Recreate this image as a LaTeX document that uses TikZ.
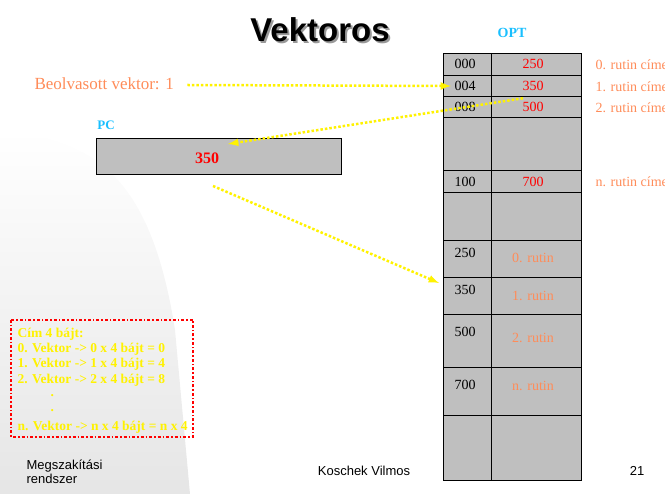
\documentclass[tikz,border=0pt]{standalone}
\usepackage{fontspec}
\setmainfont{Liberation Serif}
\newfontfamily\arialfont{Liberation Sans}
\definecolor{salmon}{rgb}{1.0, 0.55, 0.35}
\definecolor{optcyan}{rgb}{0.1, 0.75, 1.0}
\definecolor{cellgrey}{rgb}{0.75, 0.75, 0.75}
\tikzset{
  yarrow/.style = {draw = yellow, line width = 2.5pt, dash pattern = on 2.5pt off 2pt, -latex},
  cell/.style = {font = \fontsize{14}{16}\selectfont},
  routine/.style = {font = \fontsize{14}{16}\selectfont, color = salmon},
  vecline/.style = {font = \bfseries\fontsize{13.5}{16}\selectfont, color = yellow, anchor = west}
}

\begin{document}
\begin{tikzpicture}[x = 1pt, y = -1pt]
        \useasboundingbox (0, 0) rectangle (665, 494);
        \shade[top color = white, bottom color = black!10] (0, 130) .. controls (90, 140) and (150, 170) .. (175, 330) -- (190, 494) -- (0, 494) -- cycle;
        \node[text = black!40] (shadow) at (322, 32) {\arialfont\bfseries\fontsize{33}{35}\selectfont Vektoros};
        \node (title) at (320, 30) {\arialfont\bfseries\fontsize{33}{35}\selectfont Vektoros};
        \node[color = optcyan, font = \bfseries\fontsize{14}{16}\selectfont] (opt) at (512, 33) {OPT};
        % table
        \filldraw[fill = cellgrey, draw = black] (443, 53) rectangle (581, 480);
        \draw (491, 53) -- (491, 480);
        \foreach \y in {75, 96, 117, 170, 192, 240, 277, 314, 367, 415}
          \draw (443, \y) -- (581, \y);
        \node[cell] (a0) at (465, 64) {000};
        \node[cell] (a1) at (465, 86) {004};
        \node[cell] (a2) at (465, 107) {008};
        \node[cell] (an) at (465, 182) {100};
        \node[cell, color = red] (v0) at (533, 64) {250};
        \node[cell, color = red] (v1) at (533, 86) {350};
        \node[cell, color = red] (v2) at (533, 107) {500};
        \node[cell, color = red] (vn) at (533, 182) {700};
        \node[cell] (r0) at (465, 253) {250};
        \node[cell] (r1) at (465, 290) {350};
        \node[cell] (r2) at (465, 332) {500};
        \node[cell] (rn) at (465, 385) {700};
        \node[routine] (p0) at (533, 258) {0. rutin};
        \node[routine] (p1) at (533, 296) {1. rutin};
        \node[routine] (p2) at (533, 338) {2. rutin};
        \node[routine] (pn) at (533, 386) {n. rutin};
        \node[routine, anchor = west] (c0) at (592, 65) {0. rutin címe};
        \node[routine, anchor = west] (c1) at (592, 87) {1. rutin címe};
        \node[routine, anchor = west] (c2) at (592, 108) {2. rutin címe};
        \node[routine, anchor = west] (cn) at (592, 182) {n. rutin címe};
        % PC
        \node[color = optcyan, font = \bfseries\fontsize{13}{15}\selectfont] (pc) at (106, 125) {PC};
        \filldraw[fill = cellgrey, draw = black] (96, 138) rectangle (341, 174);
        \node[color = red, font = \bfseries\fontsize{16}{18}\selectfont] (pcval) at (207, 158) {350};
        \node[color = salmon, font = \fontsize{17}{19}\selectfont, anchor = west] (read) at (31, 84) {Beolvasott vektor: 1};
        \coordinate (pcin) at (228, 144);
        \coordinate (pcout) at (213, 186);
        \coordinate (rin) at (439, 283);
        \draw[yarrow] (read.east) ++(10, 1) -- (a1.west);
        \draw[yarrow] ([xshift = -10pt, yshift = -4pt]v1.south) -- (pcin);
        \draw[yarrow] (pcout) -- (rin);
        % addresses
        \draw[red, line width = 1.5pt, dash dot] (11, 320) rectangle (193, 437);
        \node[vecline] (l0) at (14, 334) {Cím 4 bájt:};
        \node[vecline] (l1) at (14, 349) {0. Vektor -> 0 x 4 bájt = 0};
        \node[vecline] (l2) at (14, 364) {1. Vektor -> 1 x 4 bájt = 4};
        \node[vecline] (l3) at (14, 380) {2. Vektor -> 2 x 4 bájt = 8};
        \node[vecline] (d1) at (47, 396) {.};
        \node[vecline] (d2) at (47, 411) {.};
        \node[vecline] (ln) at (14, 427) {n. Vektor -> n x 4 bájt = n x 4};
        % footer
        \node[anchor = west, align = left, font = \arialfont\fontsize{13}{14}\selectfont] (foot) at (23, 472) {Megszakítási\\rendszer};
        \node[font = \arialfont\fontsize{13}{15}\selectfont] (author) at (364, 471) {Koschek Vilmos};
        \node[font = \arialfont\fontsize{13}{15}\selectfont] (page) at (637, 471) {21};
      \end{tikzpicture}
\end{document}
